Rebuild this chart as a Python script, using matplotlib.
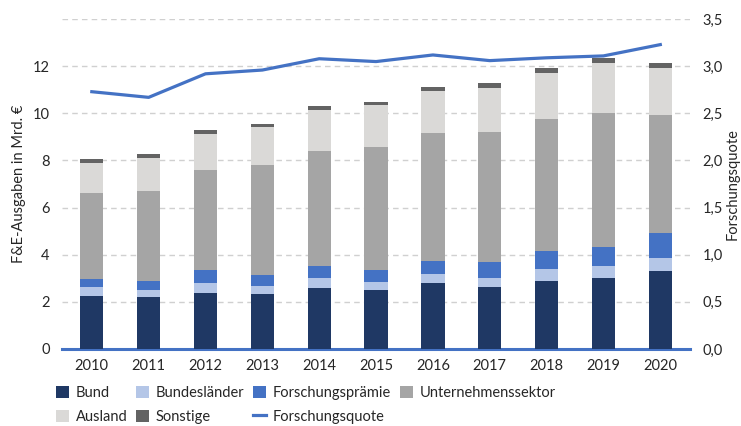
import numpy as np
import matplotlib as mpl
mpl.use("Agg")
from matplotlib import pyplot as plt
from matplotlib.patches import Patch
from matplotlib.lines import Line2D

plt.rcParams['font.family'] = ['Lato', 'DejaVu Sans']

# Data (Mrd. EUR, Forschungsquote in %)
years       = ['2010','2011','2012','2013','2014','2015','2016','2017','2018','2019','2020']
bund        = [2.24, 2.20, 2.37, 2.33, 2.58, 2.50, 2.78, 2.61, 2.90, 2.99, 3.29]
laender     = [0.38, 0.30, 0.42, 0.34, 0.43, 0.34, 0.42, 0.42, 0.51, 0.55, 0.55]
praemie     = [0.34, 0.38, 0.56, 0.46, 0.51, 0.51, 0.55, 0.64, 0.73, 0.77, 1.06]
unternehmen = [3.66, 3.83, 4.25, 4.69, 4.89, 5.22, 5.40, 5.53, 5.61, 5.69, 5.02]
ausland     = [1.28, 1.40, 1.52, 1.59, 1.73, 1.78, 1.79, 1.87, 1.95, 2.13, 2.00]
sonstige    = [0.17, 0.17, 0.16, 0.15, 0.16, 0.15, 0.17, 0.21, 0.22, 0.21, 0.21]
quote       = [2.73, 2.67, 2.92, 2.96, 3.08, 3.05, 3.12, 3.06, 3.09, 3.11, 3.23]

series      = [('Bund',bund,'#1F3864'),
               ('Bundesländer',laender,'#B4C6E7'),
               ('Forschungsprämie',praemie,'#4472C4'),
               ('Unternehmenssektor',unternehmen,'#A5A5A5'),
               ('Ausland',ausland,'#DAD9D7'),
               ('Sonstige',sonstige,'#636363')]
line_color  = '#4472C4'
text_color  = '#262626'
fsize       = 10.5

fig         = plt.figure(figsize=(7.41,4.26),dpi=100)
ax          = fig.add_axes([0.084,0.181,0.847,0.774])
ax2         = ax.twinx()

x           = np.arange(len(years))
bottom      = np.zeros(len(years))
handles     = {}
for name,vals,color in series:
    ax.bar(x,vals,width=0.41,bottom=bottom,color=color,zorder=3)
    bottom  += np.array(vals)
    handles[name] = Patch(facecolor=color,edgecolor='none')

ax2.plot(x,quote,color=line_color,lw=2.3,zorder=4)
handles['Forschungsquote'] = Line2D([],[],color=line_color,lw=2.3)

ax.set_xlim(-0.52,10.52)
ax.set_ylim(0,14)
ax2.set_ylim(0,3.5)

ax.set_xticks(x)
ax.set_xticklabels(years)
yt          = np.arange(0,15,2)
ax.set_yticks(yt)
ax.set_yticklabels([str(v) if v < 14 else '' for v in yt])
rt          = np.arange(0,3.51,0.5)
ax2.set_yticks(rt)
ax2.set_yticklabels(['{:.1f}'.format(v).replace('.',',') for v in rt])

ax.grid(axis='y',color='#D0D0D0',linestyle=(0,(4,3)),lw=1.0,zorder=0)
ax.set_axisbelow(True)

for a in (ax,ax2):
    for s in ['top','left','right','bottom']:
        a.spines[s].set_visible(False)
    a.tick_params(length=0,labelsize=fsize,colors=text_color)
ax.spines['bottom'].set_visible(True)
ax.spines['bottom'].set_color(line_color)
ax.spines['bottom'].set_linewidth(2.2)
ax.tick_params(axis='x',pad=7)
ax.tick_params(axis='y',pad=9)
ax2.tick_params(axis='y',pad=9)

ax.set_ylabel('F&E-Ausgaben in Mrd. €',fontsize=fsize,color=text_color,labelpad=5)
ax2.set_ylabel('Forschungsquote',fontsize=fsize,color=text_color,rotation=90,labelpad=2)

order       = ['Bund','Ausland','Bundesländer','Sonstige','Forschungsprämie','Forschungsquote','Unternehmenssektor']
leg         = fig.legend([handles[k] for k in order],order,ncol=4,loc='lower left',
                         bbox_to_anchor=(0.058,-0.026),frameon=False,fontsize=fsize,
                         handlelength=0.9,handleheight=0.9,handletextpad=0.45,
                         columnspacing=0.6,labelspacing=0.7)
for t in leg.get_texts():
    t.set_color(text_color)

fig.savefig('out.png',dpi=100)
plt.close(fig)
